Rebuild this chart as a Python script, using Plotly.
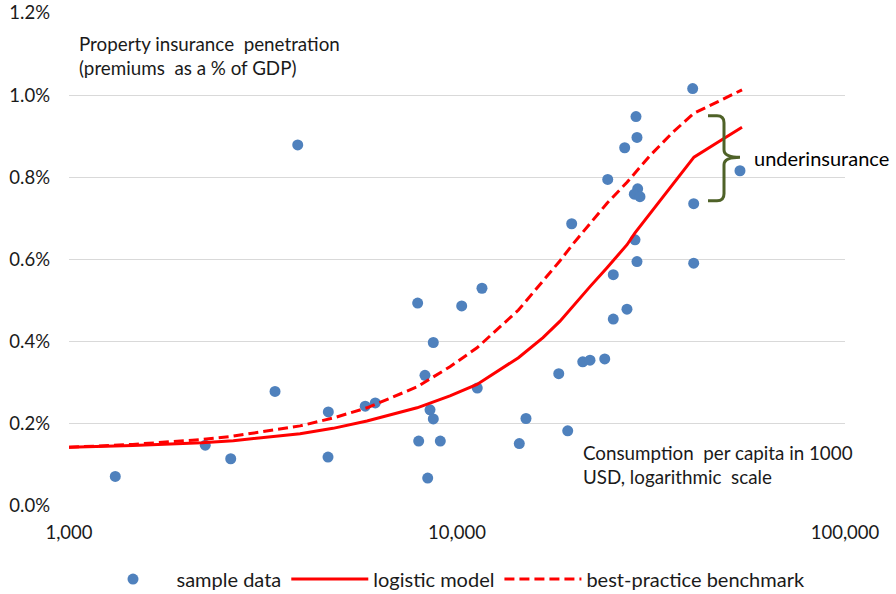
import plotly.graph_objects as go

# ---- sample data (consumption per capita USD, penetration in % of GDP)
sample_x = [1316, 2245, 2611, 3396, 3886, 4660, 4651, 5801, 6157, 7918, 7966, 8269,
            8404, 8520, 8688, 8688, 9057, 10283, 11279, 11598, 14473, 15060, 18290,
            19290, 19750, 21090, 22020, 24030, 24460, 25280, 25280, 27050, 27420,
            28930, 29100, 29220, 28640, 29620, 28760, 29100, 40500, 40740, 40740, 53620]
sample_y_pct = [0.072, 0.148, 0.115, 0.279, 0.879, 0.229, 0.119, 0.243, 0.251, 0.494,
                0.158, 0.318, 0.068, 0.234, 0.212, 0.398, 0.158, 0.487, 0.287, 0.530,
                0.152, 0.213, 0.322, 0.183, 0.687, 0.351, 0.355, 0.358, 0.795, 0.563,
                0.455, 0.872, 0.479, 0.948, 0.897, 0.772, 0.759, 0.753, 0.648, 0.595,
                1.016, 0.736, 0.591, 0.816]

# ---- model curves
curve_x = [1000, 1460, 2200, 2650, 3940, 4790, 5860, 7890, 9590, 11260, 14400, 16660,
           18430, 19910, 22020, 24360, 27430, 28760, 31440, 36030, 40810, 46790, 54270]
logistic_pct = [0.143, 0.147, 0.154, 0.159, 0.176, 0.189, 0.207, 0.239, 0.268, 0.296,
                0.361, 0.410, 0.450, 0.487, 0.534, 0.580, 0.636, 0.665, 0.712, 0.782,
                0.849, 0.884, 0.922]
benchmark_pct = [0.143, 0.150, 0.162, 0.170, 0.195, 0.214, 0.239, 0.290, 0.339, 0.385,
                 0.477, 0.548, 0.597, 0.638, 0.688, 0.737, 0.788, 0.810, 0.853, 0.910,
                 0.956, 0.983, 1.013]

x_tickvals = [1000, 10000, 100000]
x_ticktext = ["1,000", "10,000", "100,000"]

FONT = "Lato"
TXT = "#1a1a1a"
TICK_FS = 18.5
ANN_FS = 18.8
LEG_FS = 20

sample_y = [v / 100 for v in sample_y_pct]
logistic_y = [v / 100 for v in logistic_pct]
benchmark_y = [v / 100 for v in benchmark_pct]

fig = go.Figure()
fig.add_trace(go.Scatter(x=sample_x, y=sample_y, mode="markers", name="sample data",
                         marker=dict(color="#4F81BD", size=11)))
fig.add_trace(go.Scatter(x=curve_x, y=logistic_y, mode="lines", name="logistic model",
                         line=dict(color="#FF0000", width=3)))
fig.add_trace(go.Scatter(x=curve_x, y=benchmark_y, mode="lines", name="best-practice benchmark",
                         line=dict(color="#FF0000", width=3, dash="10px,5px")))

# plot area geometry in pixels (for the annotation brace)
L, R, T, B = 69, 845, 13.3, 506
def px(x):
    return (x - L) / (R - L)
def py(y):
    return (B - y) / (B - T)

brace = (f"M {px(708)} {py(116)} L {px(717)} {py(116)} "
         f"Q {px(724)} {py(116)} {px(724)} {py(123)} "
         f"L {px(724)} {py(150)} Q {px(724)} {py(157.5)} {px(740)} {py(157.5)} "
         f"Q {px(724)} {py(157.5)} {px(724)} {py(165)} "
         f"L {px(724)} {py(194)} Q {px(724)} {py(201)} {px(717)} {py(201)} "
         f"L {px(708)} {py(201)}")

fig.update_layout(
    template="none",
    width=896, height=594,
    margin=dict(l=L, r=896 - R, t=T, b=594 - B, autoexpand=False),
    paper_bgcolor="white", plot_bgcolor="white",
    font=dict(family=FONT, size=TICK_FS, color=TXT),
    showlegend=True,
    legend=dict(orientation="h", x=px(450), xanchor="center", y=py(579), yanchor="middle",
                itemwidth=77, font=dict(family=FONT, size=LEG_FS, color=TXT),
                bgcolor="rgba(0,0,0,0)"),
    xaxis=dict(type="log", range=[3, 5], tickvals=x_tickvals, ticktext=x_ticktext,
               showgrid=False, zeroline=False, showline=False, ticks="",
               automargin=False, ticklabelstandoff=13,
               tickfont=dict(family=FONT, size=TICK_FS, color=TXT)),
    yaxis=dict(range=[0, 0.012], dtick=0.002, tickformat=".1%", showgrid=True,
               gridcolor="#D9D9D9", gridwidth=1, zeroline=False, showline=False,
               ticks="", automargin=False, ticklabelstandoff=18,
               tickfont=dict(family=FONT, size=TICK_FS, color=TXT)),
    shapes=[dict(type="path", xref="paper", yref="paper", path=brace,
                 line=dict(color="#4F6228", width=3))],
    annotations=[
        dict(text="Property insurance  penetration<br>(premiums  as a % of GDP)",
             xref="paper", yref="paper", x=px(77), y=py(30), xanchor="left",
             yanchor="top", align="left", showarrow=False,
             font=dict(family=FONT, size=ANN_FS, color=TXT)),
        dict(text="Consumption  per capita in 1000<br>USD, logarithmic  scale",
             xref="paper", yref="paper", x=px(581), y=py(464.5), xanchor="left",
             yanchor="middle", align="left", showarrow=False,
             font=dict(family=FONT, size=ANN_FS, color=TXT)),
        dict(text="underinsurance", xref="paper", yref="paper", x=px(752), y=py(158),
             xanchor="left", yanchor="middle", showarrow=False,
             font=dict(family=FONT, size=20, color="black")),
    ],
)

fig.write_html("out.html")
